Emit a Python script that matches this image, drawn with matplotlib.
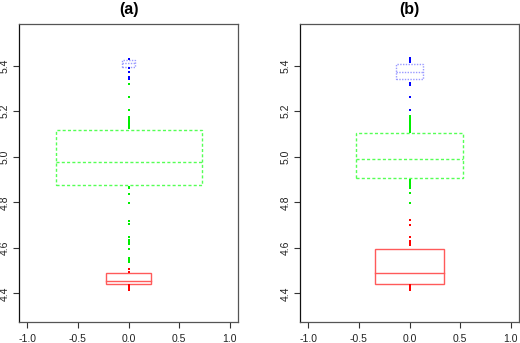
import numpy as np
import matplotlib.pyplot as plt
from matplotlib.patches import Rectangle

plt.rcParams['font.family'] = ['Liberation Sans', 'DejaVu Sans']

titles = ['(a)', '(b)']
colors = ['#ff0000', '#00ee00', '#0000ff']
box_colors = ['#ff5a5a', '#55ff55', '#9a9aff']
box_styles = ['-', (0, (2.2, 1.6)), (0, (1, 1))]

# box stats per panel: [red, green, blue] -> lower, median, upper, half width
box_low = [[4.443, 4.876, 5.393], [4.443, 4.905, 5.342]]
box_med = [[4.455, 4.976, 5.410], [4.490, 4.990, 5.370]]
box_up = [[4.488, 5.116, 5.425], [4.594, 5.105, 5.406]]
box_hw = [[0.22, 0.72, 0.066], [0.337, 0.531, 0.135]]

# visible points per panel: red, green, blue
pts_a = [
    [4.509, 4.495, 4.436, 4.428, 4.420, 4.414],
    [5.320, 5.264, 5.205, 5.176, 5.168, 5.160, 5.152, 5.145, 5.138, 5.130, 5.124,
     4.868, 4.862, 4.836, 4.798, 4.719, 4.704, 4.646, 4.632, 4.624, 4.616,
     4.594, 4.553, 4.545, 4.538],
    [5.431, 5.391, 5.372, 5.350, 5.341],
]
pts_b = [
    [4.722, 4.700, 4.646, 4.630, 4.622, 4.612, 4.436, 4.428, 4.420, 4.414],
    [5.180, 5.172, 5.164, 5.156, 5.148, 5.140, 5.132, 5.124, 5.116, 5.110,
     4.897, 4.890, 4.882, 4.875, 4.868, 4.861, 4.839, 4.798],
    [5.432, 5.424, 5.418, 5.323, 5.317, 5.264, 5.205],
]
points = [pts_a, pts_b]

xticks = [-1.0, -0.5, 0.0, 0.5, 1.0]
yticks = [4.4, 4.6, 4.8, 5.0, 5.2, 5.4]

fig = plt.figure(figsize=(5.2, 3.43), dpi=100)
lefts = [19 / 520, 300 / 520]
for p in range(2):
    ax = fig.add_axes([lefts[p], 21 / 343, 219 / 520, 298 / 343])
    for k in range(3):
        lo, md, up, hw = box_low[p][k], box_med[p][k], box_up[p][k], box_hw[p][k]
        ax.add_patch(Rectangle((-hw, lo), 2 * hw, up - lo, fill=False,
                               edgecolor=box_colors[k], linestyle=box_styles[k], lw=1.0))
        ax.plot([-hw, hw], [md, md], color=box_colors[k], linestyle=box_styles[k], lw=1.0)
        ys = np.array(points[p][k])
        ax.plot(np.zeros_like(ys), ys, 's', color=colors[k], ms=2.0, mew=0)
    ax.set_xlim(-1.08, 1.08)
    ax.set_ylim(4.274, 5.583)
    ax.set_xticks(xticks)
    ax.set_xticklabels(['%.1f' % v for v in xticks])
    ax.set_yticks(yticks)
    ax.set_yticklabels(['%.1f' % v for v in yticks], rotation=90, va='center')
    ax.tick_params(labelsize=7.5, length=4.5, width=0.8, color='#333333', pad=2.5,
                   labelcolor='#222222')
    ax.tick_params(axis='x', pad=4)
    for s in ax.spines.values():
        s.set_color('#555555')
        s.set_linewidth(0.9)
    ax.spines['left'].set_color('#111111')
    ax.set_title(titles[p], fontsize=11.5, fontweight='bold', pad=7)

fig.savefig('out.png', dpi=100)
